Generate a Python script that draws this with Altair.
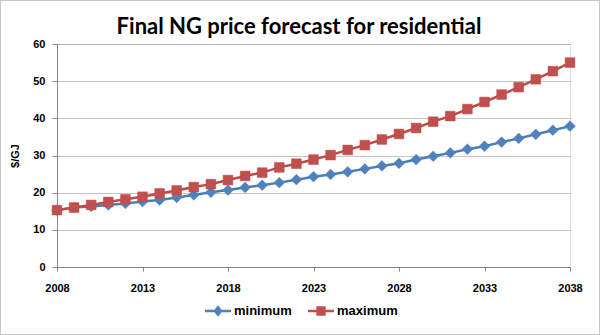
import altair as alt
import pandas as pd

years = list(range(2008, 2039))
minimum = [15.3, 16.0, 16.3, 16.7, 17.1, 17.6, 18.0, 18.7, 19.4, 20.1,
           20.7, 21.4, 22.0, 22.7, 23.5, 24.3, 24.9, 25.6, 26.4, 27.2,
           27.9, 28.9, 29.8, 30.7, 31.7, 32.5, 33.6, 34.6, 35.7, 36.8, 37.9]
maximum = [15.3, 16.0, 16.7, 17.5, 18.2, 18.9, 19.8, 20.6, 21.5, 22.3,
           23.4, 24.5, 25.4, 26.8, 27.8, 28.9, 30.1, 31.5, 32.8, 34.3,
           35.8, 37.4, 39.1, 40.6, 42.5, 44.4, 46.4, 48.4, 50.5, 52.7, 55.0]
series_names = ["minimum", "maximum"]
line_colors = ["#4A7EBB", "#BE4B48"]
marker_colors = ["#4F81BD", "#C0504D"]
x_ticks = [2008, 2013, 2018, 2023, 2028, 2033, 2038]
y_ticks = [0, 10, 20, 30, 40, 50, 60]
title_text = "Final NG price forecast for residential"

df = pd.DataFrame({
    "year": years * 2,
    "value": minimum + maximum,
    "series": [series_names[0]] * len(years) + [series_names[1]] * len(years),
})

FONT = "Liberation Sans"

x_enc = alt.X("year:Q",
              scale=alt.Scale(domain=[2008, 2038], nice=False, zero=False),
              axis=alt.Axis(values=x_ticks, format="d", title=None, grid=False,
                            labelFont=FONT, labelFontSize=11, labelFontWeight="bold",
                            labelColor="#000000", labelPadding=11, tickSize=4,
                            tickColor="#868686", domainColor="#868686",
                            labelFlush=False))
y_enc = alt.Y("value:Q",
              scale=alt.Scale(domain=[0, 60], nice=False),
              axis=alt.Axis(values=y_ticks, title="$/GJ", grid=True,
                            gridColor="#8c8c8c", gridDash=[1, 1], gridWidth=1,
                            labelFont=FONT, labelFontSize=11, labelFontWeight="bold",
                            labelColor="#000000", labelPadding=7, tickSize=5,
                            tickColor="#868686", domainColor="#868686",
                            titleFont=FONT, titleFontSize=11, titleFontWeight="bold",
                            titleColor="#000000", titlePadding=12))

base = alt.Chart(df)
layers = []
shapes = ["diamond", "square"]
sizes = [115, 95]
for name, lc, mc, shp, sz in zip(series_names, line_colors, marker_colors, shapes, sizes):
    sub = base.transform_filter(alt.datum.series == name)
    layers.append(sub.mark_line(color=lc, strokeWidth=2.5).encode(x=x_enc, y=y_enc))
    layers.append(sub.mark_point(shape=shp, filled=True, color=mc, size=sz, opacity=1,
                                 stroke=lc, strokeWidth=0.5).encode(x=x_enc, y=y_enc))

path_min = "M-1,-0.1H1V0.1H-1Z M0,-0.45L0.35,0L0,0.45L-0.35,0Z"
path_max = "M-1,-0.1H1V0.1H-1Z M-0.36,-0.36H0.36V0.36H-0.36Z"
leg = dict(orient="none", legendX=148, legendY=254, direction="horizontal", title=None,
           labelFont=FONT, labelFontSize=13, labelFontWeight="bold", labelColor="#000000",
           symbolOpacity=1, symbolSize=676, symbolStrokeWidth=0, labelOffset=3,
           columnPadding=16, padding=0)
legend_layer = base.mark_point(filled=True, opacity=0).encode(
    x=x_enc, y=y_enc,
    color=alt.Color("series:N", scale=alt.Scale(domain=series_names, range=marker_colors),
                    legend=alt.Legend(**leg)),
    shape=alt.Shape("series:N", scale=alt.Scale(domain=series_names, range=[path_min, path_max]),
                    legend=alt.Legend(**leg)),
)

one_row = alt.Data(values=[{"k": 1}])
title_layer = alt.Chart(one_row).mark_text(
    font="Lato", fontSize=22, fontWeight="bold", color="#000000",
    align="center", baseline="alphabetic").encode(
    x=alt.value(242), y=alt.value(-10), text=alt.value(title_text))

frame = alt.Chart(one_row).mark_rect(
    fill="transparent", stroke="#8c8c8c", strokeDash=[1, 1], strokeWidth=1).encode(
    x=alt.value(-56.5), x2=alt.value(542.5), y=alt.value(-43.5), y2=alt.value(290.5))

chart = alt.layer(*layers, legend_layer, title_layer, frame).properties(
    width=513, height=223,
    autosize=alt.AutoSizeParams(type="none"),
    padding={"left": 57, "top": 44, "right": 30, "bottom": 68},
).configure_view(stroke=None).configure(background="#ffffff")

chart.save("out.html", embed_options={"renderer": "svg", "actions": False})
